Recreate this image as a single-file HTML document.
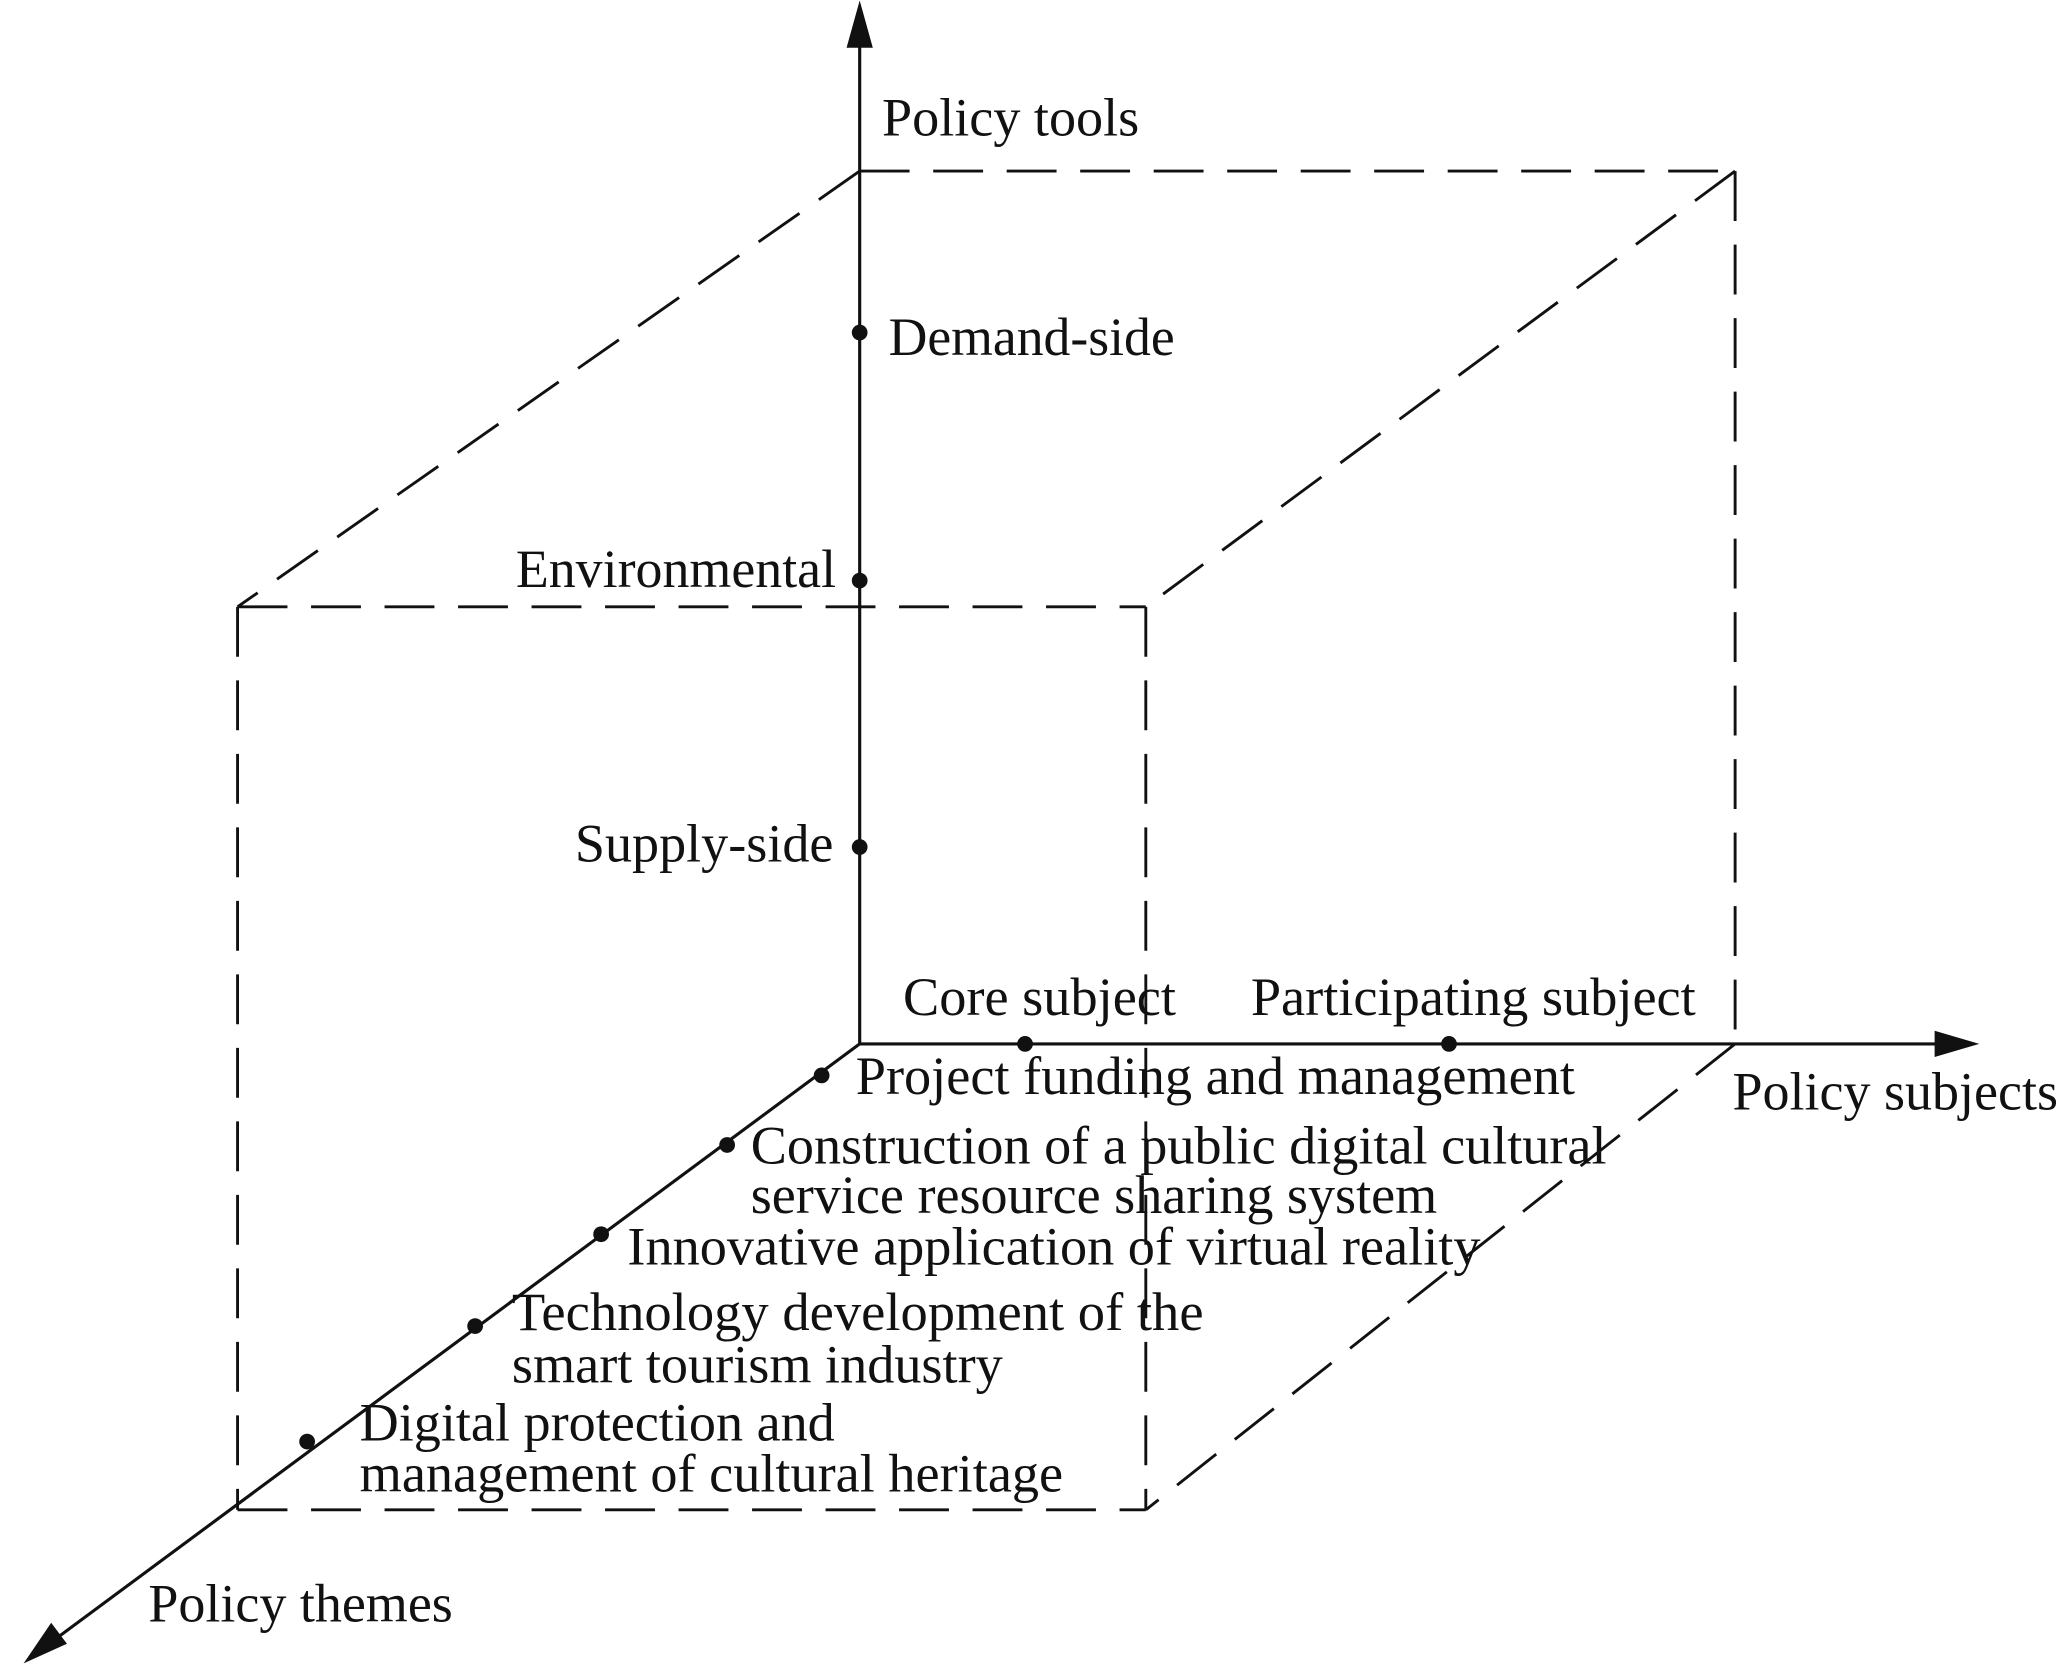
<!DOCTYPE html>
<html><head><meta charset="utf-8"><style>
html,body{margin:0;padding:0;background:#fff;}
svg{display:block;}
text{font-family:"Liberation Serif",serif;font-size:41px;fill:#111;}
</style></head><body>
<svg width="2058" height="1677" viewBox="0 0 1568 1277" xmlns="http://www.w3.org/2000/svg">
<g stroke="#111" stroke-width="2.2" fill="none" stroke-dasharray="38 18">
<line x1="655" y1="130" x2="1322" y2="130"/>
<line x1="1322" y1="130" x2="1322" y2="795"/>
<line x1="655" y1="130" x2="181" y2="462"/>
<line x1="1322" y1="130" x2="873" y2="462"/>
<line x1="181" y1="462" x2="873" y2="462"/>
<line x1="181" y1="462" x2="181" y2="1150"/>
<line x1="873" y1="462" x2="873" y2="1150"/>
<line x1="181" y1="1150" x2="873" y2="1150"/>
<line x1="1322" y1="795" x2="873" y2="1150"/>
</g>
<g stroke="#111" stroke-width="2.4" fill="none">
<line x1="655" y1="795" x2="655" y2="25"/>
<line x1="655" y1="795" x2="1490" y2="795"/>
<line x1="655" y1="795" x2="32" y2="1256"/>
</g>
<g fill="#111">
<polygon points="655,0 645,36 665,36"/>
<polygon points="1508,795 1474,785 1474,805"/>
<polygon points="18,1267 39,1236 51,1252"/>
<circle cx="655" cy="253" r="6"/><circle cx="655" cy="442" r="6"/><circle cx="655" cy="645" r="6"/>
<circle cx="781" cy="795" r="6"/><circle cx="1104" cy="795" r="6"/>
<circle cx="626" cy="819" r="6"/><circle cx="554" cy="872" r="6"/><circle cx="458" cy="940" r="6"/>
<circle cx="362" cy="1010" r="6"/><circle cx="234" cy="1098" r="6"/>
</g>
<g lengthAdjust="spacingAndGlyphs">
<text x="672" y="103" textLength="196" lengthAdjust="spacingAndGlyphs">Policy tools</text>
<text x="677" y="270" textLength="218" lengthAdjust="spacingAndGlyphs">Demand-side</text>
<text x="393" y="447" textLength="244" lengthAdjust="spacingAndGlyphs">Environmental</text>
<text x="438" y="656" textLength="197" lengthAdjust="spacingAndGlyphs">Supply-side</text>
<text x="688" y="773" textLength="208" lengthAdjust="spacingAndGlyphs">Core subject</text>
<text x="953" y="773" textLength="339" lengthAdjust="spacingAndGlyphs">Participating subject</text>
<text x="1320" y="845" textLength="248" lengthAdjust="spacingAndGlyphs">Policy subjects</text>
<text x="652" y="833" textLength="548" lengthAdjust="spacingAndGlyphs">Project funding and management</text>
<text x="572" y="886" textLength="652" lengthAdjust="spacingAndGlyphs">Construction of a public digital cultural</text>
<text x="572" y="924" textLength="523" lengthAdjust="spacingAndGlyphs">service resource sharing system</text>
<text x="478" y="963" textLength="650" lengthAdjust="spacingAndGlyphs">Innovative application of virtual reality</text>
<text x="390" y="1013" textLength="527" lengthAdjust="spacingAndGlyphs">Technology development of the</text>
<text x="390" y="1053" textLength="374" lengthAdjust="spacingAndGlyphs">smart tourism industry</text>
<text x="274" y="1097" textLength="362" lengthAdjust="spacingAndGlyphs">Digital protection and</text>
<text x="274" y="1136" textLength="536" lengthAdjust="spacingAndGlyphs">management of cultural heritage</text>
<text x="113" y="1235" textLength="232" lengthAdjust="spacingAndGlyphs">Policy themes</text>
</g>
</svg>
</body></html>
